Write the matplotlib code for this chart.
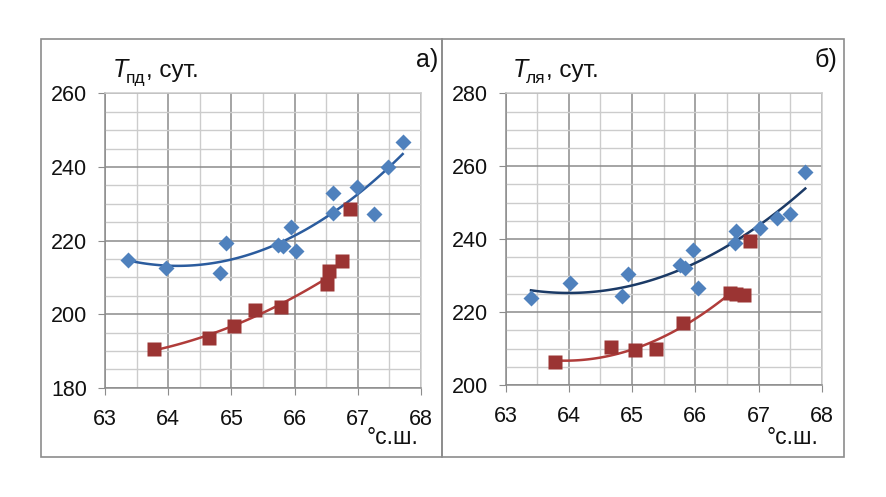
import numpy as np
import matplotlib
matplotlib.use("Agg")
import matplotlib.pyplot as plt
from matplotlib.patches import Rectangle
from matplotlib.ticker import MultipleLocator

plt.rcParams['font.family'] = ['Liberation Sans', 'DejaVu Sans']

# panel a) - Т пд
a_blue_x = [63.37, 63.97, 64.82, 64.91, 65.74, 65.82, 65.95, 66.03, 66.60, 66.61, 66.99, 67.25, 67.47, 67.71]
a_blue_y = [214.7, 212.4, 211.3, 219.2, 218.8, 218.5, 223.6, 217.2, 227.4, 233.0, 234.5, 227.2, 239.9, 246.9]
a_red_x = [63.78, 64.65, 65.04, 65.37, 65.79, 66.52, 66.54]
a_red_y = [190.4, 193.4, 196.9, 201.1, 201.8, 208.2, 211.8]
a_red_extra_x = [66.75, 66.87]
a_red_extra_y = [214.3, 228.6]

# panel б) - Т ля
b_blue_x = [63.40, 64.01, 64.84, 64.94, 65.75, 65.84, 65.97, 66.05, 66.63, 66.64, 67.02, 67.29, 67.50, 67.74]
b_blue_y = [223.8, 227.9, 224.4, 230.4, 232.9, 232.0, 236.9, 226.5, 239.0, 242.3, 243.0, 245.9, 246.9, 258.4]
b_red_x = [63.78, 64.67, 65.05, 65.38, 65.81, 66.55]
b_red_y = [206.2, 210.3, 209.6, 210.0, 217.1, 225.2]
b_red_extra_x = [66.65, 66.77, 66.86]
b_red_extra_y = [225.0, 224.7, 239.6]

W, H = 886, 497
fig = plt.figure(figsize=(W / 100, H / 100), dpi=100)

BLUE = '#4F81BD'
RED = '#9B3433'
MAJ = '#8C8C8C'
MIN = '#CCCCCC'

def fx(px):
    return px / W

def fy(py):
    return 1 - py / H

# рамки панелей
for x0, x1 in [(41, 441.7), (441.7, 844)]:
    fig.patches.append(Rectangle((fx(x0), fy(456.7)), fx(x1 - x0), (456.7 - 39) / H,
                                 transform=fig.transFigure, fill=False, ec=MAJ, lw=1.2))

def trend(ax, x, y, color):
    c = np.polyfit(x, y, 2)
    xs = np.linspace(min(x), max(x), 100)
    ax.plot(xs, np.polyval(c, xs), color=color, lw=1.8, zorder=3)

def panel(rect, ylim, bx, by, rx, ry, ex, ey, blue_line, red_line):
    ax = fig.add_axes(rect)
    ax.set_xlim(63, 68)
    ax.set_ylim(*ylim)
    ax.xaxis.set_major_locator(MultipleLocator(1))
    ax.xaxis.set_minor_locator(MultipleLocator(0.5))
    ax.yaxis.set_major_locator(MultipleLocator(20))
    ax.yaxis.set_minor_locator(MultipleLocator(5))
    ax.grid(which='major', color=MAJ, lw=1.1, zorder=0)
    ax.grid(which='minor', color=MIN, lw=1.0, zorder=0)
    ax.set_axisbelow(True)
    for s in ax.spines.values():
        s.set_color(MAJ)
        s.set_linewidth(1.1)
    ax.spines['top'].set_color(MIN)
    ax.spines['right'].set_color(MIN)
    ax.tick_params(which='major', direction='out', length=5, color=MAJ, labelsize=15.5, labelcolor='#111111')
    ax.tick_params(axis='y', pad=8)
    ax.tick_params(axis='x', pad=10)
    ax.tick_params(which='minor', length=0)
    trend(ax, bx, by, blue_line)
    trend(ax, rx, ry, red_line)
    ax.plot(bx, by, 'D', color=BLUE, ms=7.8, mec='none', zorder=4, clip_on=False)
    ax.plot(rx + ex, ry + ey, 's', color=RED, ms=10, mec='none', zorder=4, clip_on=False)
    return ax

panel([fx(105), fy(387.7), fx(316), (387.7 - 93.3) / H], (180, 260),
      a_blue_x, a_blue_y, a_red_x, a_red_y, a_red_extra_x, a_red_extra_y, '#2B5C9E', '#B03C3A')
panel([fx(505.7), fy(385), fx(316), (385 - 93.3) / H], (200, 280),
      b_blue_x, b_blue_y, b_red_x, b_red_y, b_red_extra_x, b_red_extra_y, '#1B3A66', '#B03C3A')

# подписи осей
for x0, sub in [(113, 'пд'), (513, 'ля')]:
    fig.text(fx(x0), fy(77), 'T', fontsize=18, style='italic', color='#111111')
    fig.text(fx(x0 + 13), fy(83), sub, fontsize=12.5, color='#111111')
    fig.text(fx(x0 + 33), fy(77), ', сут.', fontsize=17.5, color='#111111')

fig.text(fx(438), fy(67), 'а)', fontsize=18, ha='right', color='#111111')
fig.text(fx(837), fy(67), 'б)', fontsize=18, ha='right', color='#111111')
fig.text(fx(419), fy(444), '°с.ш.', fontsize=16.5, ha='right', color='#111111')
fig.text(fx(819), fy(444), '°с.ш.', fontsize=16.5, ha='right', color='#111111')

fig.savefig('out.png', dpi=100)
